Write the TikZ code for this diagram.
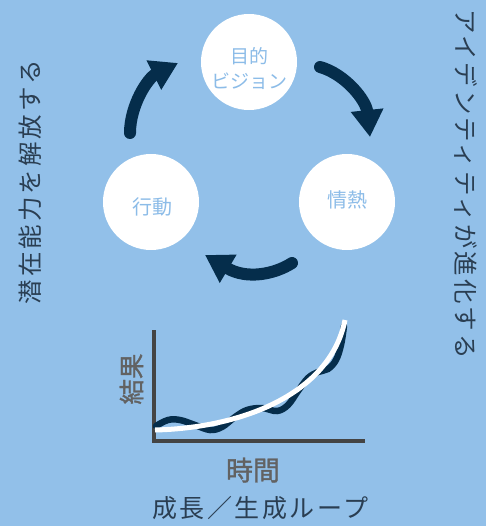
\documentclass[tikz,border=0pt]{standalone}
\usepackage{fontspec}
\setmainfont{Noto Sans CJK JP}
\newfontfamily\jp{Noto Sans CJK JP}
\newfontfamily\jpb[FakeBold=1.3]{Noto Sans CJK JP}
\usetikzlibrary{arrows.meta}
\definecolor{bg}{RGB}{146,192,233}
\definecolor{navy}{RGB}{5,45,75}
\definecolor{axisc}{RGB}{68,68,68}
\definecolor{graytxt}{RGB}{98,98,98}
\definecolor{darktxt}{RGB}{42,62,82}
\definecolor{circtxt}{RGB}{140,188,232}
\tikzset{
  stage/.style={circle, fill=white, minimum size=96pt, inner sep=0pt},
  stagetxt/.style={text=circtxt, font=\jp\fontsize{19}{22}\selectfont, inner sep=0pt},
  cyclearrow/.style={navy, line width=12pt, line cap=round,
    -{Triangle[length=27pt,width=31pt]}},
  sidetxt/.style={text=darktxt, inner sep=0pt,
    font=\jp\fontsize{24.5}{28}\selectfont\addfontfeatures{LetterSpace=12}},
  axislabel/.style={text=graytxt, inner sep=0pt},
}
\begin{document}
\begin{tikzpicture}[x=1pt,y=-1pt]
\path[use as bounding box, fill=bg] (0,0) rectangle (486,526);

% cycle circles
\node[stage] (vision) at (249,62) {};
\node[stage] (action) at (151,202) {};
\node[stage] (passion) at (347,202) {};
\node[stagetxt] (t1) at (249,56) {目的};
\node[stagetxt] (t2) at (249,81) {ビジョン};
\node[stagetxt, font=\jp\fontsize{20}{22}\selectfont] (t3) at (152,207) {行動};
\node[stagetxt, font=\jp\fontsize{20}{22}\selectfont] (t4) at (347,200) {情熱};

% arrows
\coordinate (a1s) at (130,133);
\coordinate (a1e) at (178,63);
\coordinate (a2s) at (320,67);
\coordinate (a2e) at (370,137);
\coordinate (a3s) at (292,263);
\coordinate (a3e) at (205,255);
\draw[cyclearrow] (a1s) .. controls (130,105) and (148,78) .. (a1e);
\draw[cyclearrow] (a2s) .. controls (345,74) and (366,100) .. (a2e);
\draw[cyclearrow] (a3s) .. controls (275,274) and (247,280) .. (a3e);

% side texts
\node[sidetxt, rotate=90] (left) at (30.5,182) {潜在能力を解放する};
\node[sidetxt, rotate=-90] (right) at (466,184) {アイデンティティが進化する};

% chart
\coordinate (ytop) at (154,330);
\coordinate (orig) at (154,441);
\coordinate (xend) at (365,441);
\draw[axisc, line width=4.5pt, line join=miter] (ytop) -- (orig) -- (xend);
\draw[navy, line width=6.5pt, line cap=round] plot[smooth, tension=0.6] coordinates {
 (156,426) (168,420) (180,420) (195,425) (210,430) (222,427) (235,417) (247,410)
 (262,408) (277,411) (288,405) (298,391) (308,378) (318,372) (328,369) (336,360)
 (341,345) (344,326)};
\draw[white, line width=5pt] (155,430) .. controls (240,428) and (330,395) .. (345,320);

\node[axislabel, rotate=90, font=\jpb\fontsize{25.5}{28}\selectfont] (ylab) at (131.5,379) {結果};
\node[axislabel, font=\jpb\fontsize{27}{30}\selectfont] (xlab) at (253,470) {時間};
\node[text=darktxt, inner sep=0pt, font=\jp\fontsize{25}{28}\selectfont\addfontfeatures{LetterSpace=10}] (title) at (260,508) {成長／生成ループ};
\end{tikzpicture}
\end{document}
